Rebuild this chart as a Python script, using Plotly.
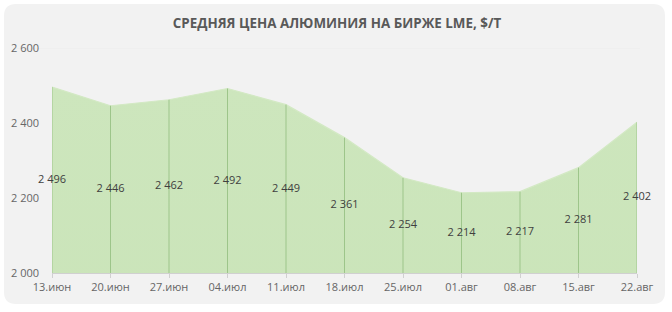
import plotly.graph_objects as go

categories = ["13.июн", "20.июн", "27.июн", "04.июл", "11.июл", "18.июл",
              "25.июл", "01.авг", "08.авг", "15.авг", "22.авг"]
prices = [2496, 2446, 2462, 2492, 2449, 2361, 2254, 2214, 2217, 2281, 2402]
y_ticks = [2000, 2200, 2400, 2600]
y_tick_labels = ["2 000", "2 200", "2 400", "2 600"]
title_text = "СРЕДНЯЯ ЦЕНА АЛЮМИНИЯ НА БИРЖЕ LME, $/T"

W, H = 672, 312
L, R, T, B = 52, 35, 48, 39
y_min, y_max = 2000, 2600

def px(x):
    return (x - L) / (W - L - R)

def py(y):
    return (H - B - y) / (H - T - B)

def fmt(v):
    return f"{v:,}".replace(",", " ")

idx = list(range(len(categories)))

fig = go.Figure()

# area
fig.add_trace(go.Scatter(
    x=idx, y=prices, mode="lines", line=dict(width=1.2, color="#d3e9c4"),
    fill="tozeroy",
    fillgradient=dict(type="vertical",
                      colorscale=[[0, "#c2dfae"], [1, "#cde6bd"]]),
    hoverinfo="skip", showlegend=False,
))

# drop lines
dx, dy = [], []
for i, v in zip(idx, prices):
    dx += [i, i, None]
    dy += [y_min, v, None]
fig.add_trace(go.Scatter(
    x=dx, y=dy, mode="lines", line=dict(color="#9dc58a", width=1),
    hoverinfo="skip", showlegend=False,
))

# labels at middle of the area
fig.add_trace(go.Scatter(
    x=idx, y=[(y_min + v) / 2 for v in prices], mode="text",
    text=[fmt(v) for v in prices], cliponaxis=False,
    textfont=dict(family="Open Sans, Lato, sans-serif", size=11, color="#404040"),
    hoverinfo="skip", showlegend=False,
))

# card background
r = 12
x0, x1, y0, y1 = 4, 665, 4, 304
pts = [
    ("M", x0 + r, y0), ("L", x1 - r, y0), ("Q", x1, y0, x1, y0 + r),
    ("L", x1, y1 - r), ("Q", x1, y1, x1 - r, y1), ("L", x0 + r, y1),
    ("Q", x0, y1, x0, y1 - r), ("L", x0, y0 + r), ("Q", x0, y0, x0 + r, y0),
]
path = ""
for p in pts:
    coords = p[1:]
    parts = [f"{px(coords[k]):.5f},{py(coords[k+1]):.5f}"
             for k in range(0, len(coords), 2)]
    path += p[0] + " " + " ".join(parts) + " "
path += "Z"

fig.add_shape(type="path", path=path, xref="paper", yref="paper",
              fillcolor="#f2f2f2", line=dict(width=0), layer="below")
# faint top border line of plot area
fig.add_shape(type="line", xref="paper", yref="y", x0=px(14), x1=px(640),
              y0=y_max, y1=y_max, line=dict(color="#ebebeb", width=1),
              layer="below")

fig.update_layout(
    width=W, height=H,
    margin=dict(l=L, r=R, t=T, b=B),
    paper_bgcolor="white",
    plot_bgcolor="rgba(0,0,0,0)",
    title=dict(text=title_text, x=px(337), xref="paper", xanchor="center",
               y=1 - 23 / H, yref="container", yanchor="middle",
               font=dict(family="Open Sans, sans-serif", size=13.4,
                         color="#595959", weight="bold")),
    xaxis=dict(
        range=[0, len(categories) - 1], tickmode="array", tickvals=idx,
        ticktext=categories, showgrid=False, zeroline=False,
        showline=True, linecolor="#d0d0d0", linewidth=1,
        ticks="outside", ticklen=4, tickcolor="#d0d0d0",
        tickfont=dict(family="Open Sans, sans-serif", size=11, color="#666666"),
        fixedrange=True,
    ),
    yaxis=dict(
        range=[y_min, y_max], tickmode="array", tickvals=y_ticks,
        ticktext=y_tick_labels, showgrid=False, zeroline=False, showline=False,
        tickfont=dict(family="Open Sans, sans-serif", size=11, color="#666666"),
        ticklabelstandoff=12, fixedrange=True,
    ),
    showlegend=False,
)

fig.write_html("out.html")
